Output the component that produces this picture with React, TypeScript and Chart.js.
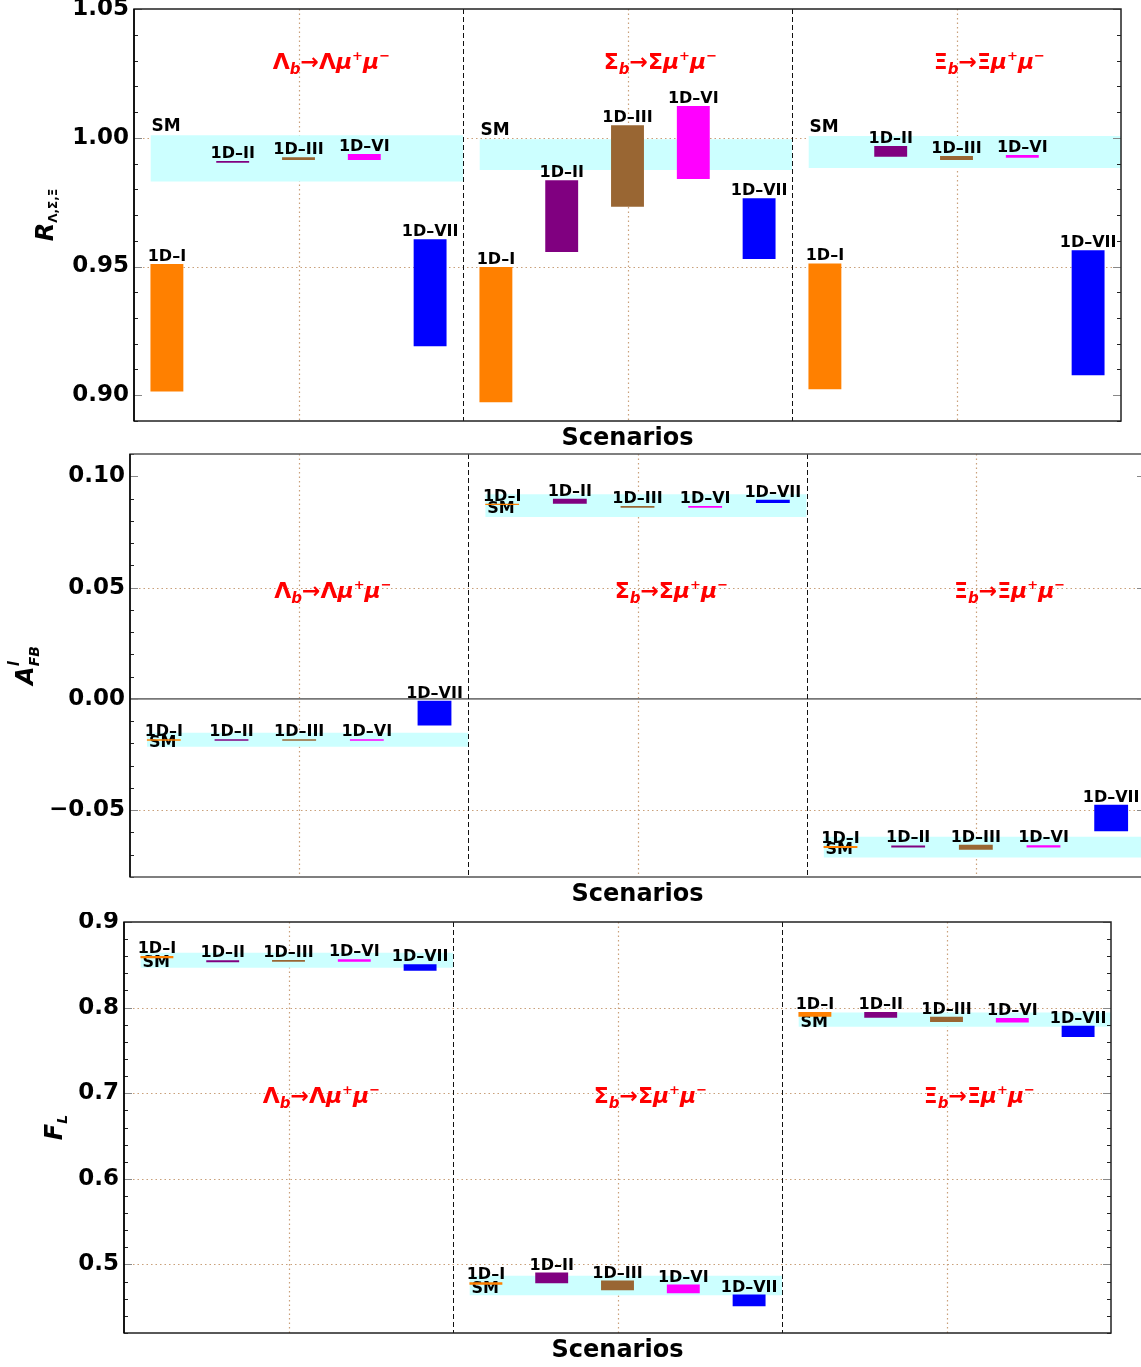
import React, { useEffect, useRef } from 'react';
import { Chart, registerables } from 'chart.js';

Chart.register(...registerables);

const FONT = "'DejaVu Sans', 'Liberation Sans', sans-serif";

// ---------------- data ----------------
const baryons = ['Λ', 'Σ', 'Ξ'];
const scenarios = ['1D–I', '1D–II', '1D–III', '1D–VI', '1D–VII'];
const scenarioColors = ['#ff8000', '#800080', '#996633', '#ff00ff', '#0000ff'];
const smColor = '#ccffff';

type Range = [number, number];

// R_{Λ,Σ,Ξ}
const R_SM: Range[] = [[0.983, 1.001], [0.9875, 0.9994], [0.9883, 1.0007]];
const R_Lambda: Range[] = [[0.9015, 0.951], [0.9903, 0.991], [0.9914, 0.9924], [0.9914, 0.9937], [0.919, 0.9606]];
const R_Sigma: Range[] = [[0.8973, 0.9498], [0.9556, 0.9835], [0.9732, 1.0049], [0.984, 1.0123], [0.9529, 0.9765]];
const R_Xi: Range[] = [[0.9023, 0.9512], [0.9926, 0.9968], [0.9914, 0.9929], [0.9922, 0.9933], [0.9078, 0.9563]];
const R_TICKS = [0.9, 0.95, 1.0, 1.05];
const R_GRID = [0.95, 1.0];
const R_TITLE_Y = 1.03;

// A_FB^l
const AFB_SM: Range[] = [[-0.0215, -0.0152], [0.0817, 0.0919], [-0.0712, -0.0619]];
const AFB_Lambda: Range[] = [[-0.0188, -0.0181], [-0.0188, -0.0181], [-0.0188, -0.0181], [-0.0188, -0.0181], [-0.012, -0.0008]];
const AFB_Sigma: Range[] = [[0.0871, 0.0877], [0.0877, 0.0899], [0.0859, 0.0866], [0.0859, 0.0866], [0.088, 0.0895]];
const AFB_Xi: Range[] = [[-0.067, -0.0661], [-0.0667, -0.0658], [-0.0678, -0.0655], [-0.0667, -0.0657], [-0.0595, -0.0475]];
const AFB_TICKS = [-0.05, 0, 0.05, 0.1];
const AFB_GRID = [-0.05, 0.05];
const AFB_TITLE_Y = 0.049;

// F_L
const FL_SM: Range[] = [[0.8466, 0.8641], [0.4641, 0.4868], [0.7778, 0.7942]];
const FL_Lambda: Range[] = [[0.8576, 0.8603], [0.853, 0.8553], [0.8536, 0.8556], [0.8536, 0.8564], [0.8431, 0.8506]];
const FL_Sigma: Range[] = [[0.4763, 0.4793], [0.4781, 0.4906], [0.47, 0.4813], [0.4665, 0.4766], [0.4513, 0.4649]];
const FL_Xi: Range[] = [[0.7892, 0.795], [0.7883, 0.795], [0.7833, 0.7892], [0.7825, 0.788], [0.7658, 0.7787]];
const FL_TICKS = [0.5, 0.6, 0.7, 0.8, 0.9];
const FL_GRID = [0.5, 0.6, 0.7, 0.8];
const FL_TITLE_Y = 0.698;

// ---------------- rich text ----------------
type Part = { t: string; f: string; dy?: number; sameX?: boolean };

function drawParts(ctx: CanvasRenderingContext2D, parts: Part[], x: number, y: number, align: 'center' | 'left') {
  let cursor = 0;
  let prevStart = 0;
  const placed = parts.map((p) => {
    ctx.font = p.f;
    const w = ctx.measureText(p.t).width;
    const start = p.sameX ? prevStart : cursor;
    prevStart = start;
    cursor = Math.max(cursor, start + w);
    return { ...p, start };
  });
  const x0 = align === 'center' ? x - cursor / 2 : x;
  ctx.textAlign = 'left';
  ctx.textBaseline = 'alphabetic';
  placed.forEach((p) => {
    ctx.font = p.f;
    ctx.fillText(p.t, x0 + p.start, y + (p.dy || 0));
  });
}

function reactionParts(b: string): Part[] {
  return [
    { t: b, f: `bold 22px ${FONT}` },
    { t: 'b', f: `italic bold 15px ${FONT}`, dy: 5 },
    { t: '→' + b, f: `bold 22px ${FONT}` },
    { t: 'μ', f: `italic bold 22px ${FONT}` },
    { t: '+', f: `bold 13px ${FONT}`, dy: -9 },
    { t: 'μ', f: `italic bold 22px ${FONT}` },
    { t: '−', f: `bold 13px ${FONT}`, dy: -9 },
  ];
}

// ---------------- panels ----------------
interface PanelCfg {
  top: number;
  width: number;
  height: number;
  pad: { top: number; right: number; bottom: number };
  axisWidth: number;
  yMin: number;
  yMax: number;
  ticks: number[];
  minorStep: number;
  grid: number[];
  zeroLine: boolean;
  decimals: number;
  sm: Range[];
  series: Range[][];
  titleY: number;
  smMode: 'above' | 'center';
  smFont: number;
  yTitle: Part[];
  yTitleX: number;
  frameColor: string;
}

const panels: PanelCfg[] = [
  {
    top: 0, width: 1141, height: 450, pad: { top: 9, right: 20, bottom: 29 }, axisWidth: 134,
    yMin: 0.89, yMax: 1.05, ticks: R_TICKS, minorStep: 0.01, grid: R_GRID, zeroLine: false, decimals: 2,
    sm: R_SM, series: [R_Lambda, R_Sigma, R_Xi], titleY: R_TITLE_Y, smMode: 'above', smFont: 17,
    yTitle: [
      { t: 'R', f: `italic bold 24px ${FONT}` },
      { t: 'Λ,Σ,Ξ', f: `bold 12px ${FONT}`, dy: 4 },
    ],
    yTitleX: 53, frameColor: '#222',
  },
  {
    top: 445, width: 1160, height: 462, pad: { top: 9, right: 15, bottom: 30 }, axisWidth: 130,
    yMin: -0.08, yMax: 0.11, ticks: AFB_TICKS, minorStep: 0.01, grid: AFB_GRID, zeroLine: true, decimals: 2,
    sm: AFB_SM, series: [AFB_Lambda, AFB_Sigma, AFB_Xi], titleY: AFB_TITLE_Y, smMode: 'center', smFont: 16,
    yTitle: [
      { t: 'A', f: `italic bold 24px ${FONT}` },
      { t: 'l', f: `italic bold 15px ${FONT}`, dy: -14 },
      { t: 'FB', f: `italic bold 14px ${FONT}`, dy: 6, sameX: true },
    ],
    yTitleX: 33, frameColor: '#555',
  },
  {
    top: 912, width: 1141, height: 455, pad: { top: 10, right: 30, bottom: 34 }, axisWidth: 124,
    yMin: 0.42, yMax: 0.9, ticks: FL_TICKS, minorStep: 0.02, grid: FL_GRID, zeroLine: false, decimals: 1,
    sm: FL_SM, series: [FL_Lambda, FL_Sigma, FL_Xi], titleY: FL_TITLE_Y, smMode: 'center', smFont: 16,
    yTitle: [
      { t: 'F', f: `italic bold 24px ${FONT}` },
      { t: 'L', f: `italic bold 14px ${FONT}`, dy: 5 },
    ],
    yTitleX: 62, frameColor: '#222',
  },
];

function fmt(v: number, d: number) {
  const s = Math.abs(v).toFixed(d);
  return v < -1e-9 ? '−' + s : s;
}

function line(ctx: CanvasRenderingContext2D, x1: number, y1: number, x2: number, y2: number) {
  ctx.beginPath();
  ctx.moveTo(x1, y1);
  ctx.lineTo(x2, y2);
  ctx.stroke();
}

function buildConfig(cfg: PanelCfg): any {
  const bandSets = baryons.flatMap((_, k) => [
    {
      type: 'line',
      data: [{ x: k + 0.05, y: cfg.sm[k][1] }, { x: k + 1, y: cfg.sm[k][1] }],
      fill: '+1',
      backgroundColor: smColor,
      borderColor: 'rgba(0,0,0,0)',
      borderWidth: 0,
      pointRadius: 0,
      order: 10,
    },
    {
      type: 'line',
      data: [{ x: k + 0.05, y: cfg.sm[k][0] }, { x: k + 1, y: cfg.sm[k][0] }],
      fill: false,
      borderColor: 'rgba(0,0,0,0)',
      borderWidth: 0,
      pointRadius: 0,
      order: 10,
    },
  ]);
  const nBand = bandSets.length;
  const barSets = scenarios.map((name, i) => ({
    type: 'bar',
    label: name,
    data: baryons.map((_, k) => ({ x: k + (2 * i + 1) / 10, y: cfg.series[k][i] })),
    backgroundColor: scenarioColors[i],
    borderWidth: 0,
    grouped: false,
    categoryPercentage: 1,
    barPercentage: 0.5,
    order: 1,
  }));

  const decor = {
    id: 'decor',
    beforeDatasetsDraw(chart: any) {
      const { ctx, chartArea: a, scales } = chart;
      const x = scales.x, y = scales.y;
      ctx.save();
      ctx.strokeStyle = '#c9a07a';
      ctx.lineWidth = 1.2;
      ctx.setLineDash([1.5, 3]);
      baryons.forEach((_, k) => {
        const px = Math.round(x.getPixelForValue(k + 0.5)) + 0.5;
        line(ctx, px, a.top, px, a.bottom);
      });
      cfg.grid.forEach((v) => {
        const py = Math.round(y.getPixelForValue(v)) + 0.5;
        line(ctx, a.left, py, a.right, py);
      });
      ctx.setLineDash([]);
      if (cfg.zeroLine) {
        ctx.strokeStyle = '#777';
        ctx.lineWidth = 1.6;
        const py = y.getPixelForValue(0);
        line(ctx, a.left, py, a.right, py);
      }
      ctx.restore();
    },
    afterDatasetDraw(chart: any, args: any) {
      if (args.index !== 0) return;
      const { ctx, scales } = chart;
      const x = scales.x, y = scales.y;
      ctx.save();
      ctx.fillStyle = '#000';
      ctx.font = `bold ${cfg.smFont}px ${FONT}`;
      ctx.textAlign = 'left';
      ctx.textBaseline = 'alphabetic';
      baryons.forEach((_, k) => {
        const [lo, hi] = cfg.sm[k];
        const px = x.getPixelForValue(k + 0.05);
        if (cfg.smMode === 'above') {
          ctx.fillText('SM', px + 1, y.getPixelForValue(hi) - 4);
        } else {
          const cy = (y.getPixelForValue(hi) + y.getPixelForValue(lo)) / 2;
          ctx.fillText('SM', px + 2, cy + 7);
        }
      });
      ctx.restore();
    },
    afterDatasetsDraw(chart: any) {
      const { ctx, chartArea: a, scales } = chart;
      const x = scales.x, y = scales.y;
      ctx.save();
      // section dividers
      ctx.strokeStyle = '#111';
      ctx.lineWidth = 1;
      ctx.setLineDash([5, 3]);
      [1, 2].forEach((v) => {
        const px = Math.round(x.getPixelForValue(v)) + 0.5;
        line(ctx, px, a.top, px, a.bottom);
      });
      ctx.setLineDash([]);

      // scenario labels above bars
      ctx.fillStyle = '#000';
      ctx.font = `bold 16px ${FONT}`;
      ctx.textAlign = 'center';
      ctx.textBaseline = 'alphabetic';
      scenarios.forEach((name, i) => {
        const meta = chart.getDatasetMeta(nBand + i);
        meta.data.forEach((el: any) => {
          const p = el.getProps(['x', 'y', 'base'], true);
          const topPx = Math.min(p.y, p.base);
          ctx.fillText(name, p.x, topPx - 3);
        });
      });

      // reaction titles
      ctx.fillStyle = '#ff0000';
      baryons.forEach((b, k) => {
        drawParts(ctx, reactionParts(b), x.getPixelForValue(k + 0.6), y.getPixelForValue(cfg.titleY) + 8, 'center');
      });

      // ticks (inside, left & right)
      const nMinor = Math.round((cfg.yMax - cfg.yMin) / cfg.minorStep);
      for (let j = 0; j <= nMinor; j++) {
        const v = cfg.yMin + j * cfg.minorStep;
        const major = cfg.ticks.some((t) => Math.abs(t - v) < 1e-6);
        const py = Math.round(y.getPixelForValue(v)) + 0.5;
        ctx.strokeStyle = major ? '#888' : '#222';
        ctx.lineWidth = 1;
        const len = major ? 8 : 4;
        line(ctx, a.left, py, a.left + len, py);
        line(ctx, a.right, py, a.right - len, py);
      }

      // frame
      ctx.strokeStyle = cfg.frameColor;
      ctx.lineWidth = 1.5;
      ctx.strokeRect(a.left, a.top, a.right - a.left, a.bottom - a.top);
      ctx.strokeStyle = '#000';
      line(ctx, a.left, a.top, a.left, a.bottom);

      // x title
      ctx.fillStyle = '#000';
      ctx.font = `bold 24px ${FONT}`;
      ctx.textAlign = 'center';
      ctx.textBaseline = 'middle';
      ctx.fillText('Scenarios', (a.left + a.right) / 2, a.bottom + 18);

      // y title (rotated)
      ctx.translate(cfg.yTitleX, (a.top + a.bottom) / 2);
      ctx.rotate(-Math.PI / 2);
      drawParts(ctx, cfg.yTitle, 0, 0, 'center');
      ctx.restore();
    },
  };

  return {
    type: 'bar',
    data: { datasets: [...bandSets, ...barSets] },
    options: {
      responsive: false,
      animation: false,
      devicePixelRatio: 1,
      events: [],
      layout: { padding: { top: cfg.pad.top, right: cfg.pad.right, bottom: cfg.pad.bottom, left: 0 } },
      plugins: { legend: { display: false }, tooltip: { enabled: false }, title: { display: false } },
      scales: {
        x: {
          type: 'linear',
          min: 0,
          max: 3,
          offset: false,
          display: false,
          ticks: { stepSize: 0.5 },
          grid: { display: false },
        },
        y: {
          type: 'linear',
          min: cfg.yMin,
          max: cfg.yMax,
          afterFit: (s: any) => {
            s.width = cfg.axisWidth;
            s.paddingTop = 0;
            s.paddingBottom = 0;
          },
          afterBuildTicks: (s: any) => {
            s.ticks = cfg.ticks.map((v) => ({ value: v }));
          },
          ticks: {
            font: { family: FONT, size: 23, weight: 'bold' },
            color: '#000',
            padding: 5,
            callback: (v: any) => fmt(Number(v), cfg.decimals),
          },
          grid: { display: false, drawTicks: false },
          border: { display: false },
        },
      },
    },
    plugins: [decor],
  };
}

function Panel({ cfg }: { cfg: PanelCfg }) {
  const ref = useRef<HTMLCanvasElement>(null);
  useEffect(() => {
    const canvas = ref.current;
    if (!canvas) return;
    const chart = new Chart(canvas, buildConfig(cfg));
    return () => chart.destroy();
  }, [cfg]);
  return (
    <canvas
      ref={ref}
      width={cfg.width}
      height={cfg.height}
      style={{ position: 'absolute', left: 0, top: cfg.top, width: cfg.width, height: cfg.height }}
    />
  );
}

export default function App() {
  return (
    <div
      style={{
        position: 'absolute',
        left: 0,
        top: 0,
        width: 1141,
        height: 1367,
        overflow: 'hidden',
        background: '#fff',
      }}
    >
      {panels.map((p, i) => (
        <Panel key={i} cfg={p} />
      ))}
    </div>
  );
}
